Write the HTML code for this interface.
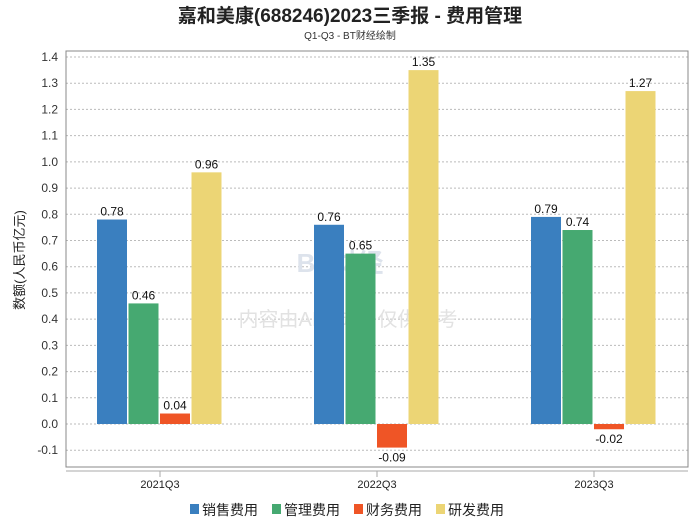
<!DOCTYPE html>
<html><head><meta charset="utf-8"><style>
body{margin:0;background:#fff;font-family:"Liberation Sans","Noto Sans CJK SC",sans-serif;}
</style></head><body>
<svg width="700" height="524" xmlns="http://www.w3.org/2000/svg" font-family="Liberation Sans, Noto Sans CJK SC, sans-serif">
<text x="350" y="22" text-anchor="middle" font-size="19" font-weight="bold" fill="#222">嘉和美康(688246)2023三季报 - 费用管理</text>
<text x="350" y="39" text-anchor="middle" font-size="10" fill="#333">Q1-Q3 - BT财经绘制</text>
<g id="grid"></g>
<rect x="66" y="51" width="622" height="416" fill="none" stroke="#888"/>
<line x1="66" y1="471" x2="688" y2="471" stroke="#aaa"/>
<text x="24" y="260" text-anchor="middle" font-size="13" fill="#222" transform="rotate(-90 24 260)">数额(人民币亿元)</text>
<text x="340" y="272" text-anchor="middle" font-size="26" font-weight="bold" fill="#dde3ec">BT财经</text>
<text x="348" y="326" text-anchor="middle" font-size="20" fill="#e2e2e2">内容由AI生成，仅供参考</text>
<g id="bars"></g>
<g id="legend"></g>
</svg>
<script>
const categories=["2021Q3","2022Q3","2023Q3"];
const seriesNames=["销售费用","管理费用","财务费用","研发费用"];
const colors=["#3a7fbf","#46a971","#ef5526","#ecd575"];
const sales=[0.78,0.76,0.79];
const admin=[0.46,0.65,0.74];
const finance=[0.04,-0.09,-0.02];
const rnd=[0.96,1.35,1.27];
const yTicks=[-0.1,0.0,0.1,0.2,0.3,0.4,0.5,0.6,0.7,0.8,0.9,1.0,1.1,1.2,1.3,1.4];
const NS="http://www.w3.org/2000/svg";
const y=v=>424-v*262.14;
const xc=i=>160+217*i;
function mk(tag,attrs,parent){const e=document.createElementNS(NS,tag);for(const k in attrs)e.setAttribute(k,attrs[k]);parent.appendChild(e);return e;}
const grid=document.getElementById('grid');
yTicks.forEach(t=>{
  const l=mk('line',{x1:66,x2:688,y1:y(t),y2:y(t),stroke:'#bbb','stroke-dasharray':'2,2'},grid);
  
  
  const tx=mk('text',{x:58,y:y(t)+4,'text-anchor':'end','font-size':12,fill:'#333'},grid);
  tx.textContent=t.toFixed(1);
  
  
});
const bars=document.getElementById('bars');
const all=[sales,admin,finance,rnd];
categories.forEach((c,i)=>{
  const tk=mk('line',{x1:xc(i),x2:xc(i),y1:471,y2:477,stroke:'#aaa'},bars);
  
  
  const lb=mk('text',{x:xc(i),y:488,'text-anchor':'middle','font-size':11,fill:'#222'},bars);
  lb.textContent=c;
  
  
  all.forEach((s,j)=>{
    const v=s[i];const x0=xc(i)-63+j*31.5;
    const top=Math.min(y(v),y(0)),h=Math.abs(y(v)-y(0));
    const r=mk('rect',{x:x0,y:top,width:30,height:h,fill:colors[j]},bars);
    
    
    const t=mk('text',{x:x0+15,y:v>=0?y(v)-4:y(v)+14,'text-anchor':'middle','font-size':12,fill:'#111'},bars);
    t.textContent=v.toFixed(2);
    
    
  });
});
const lg=document.getElementById('legend');
const lx=[190,272,354,436];
seriesNames.forEach((n,j)=>{
  const r=mk('rect',{x:lx[j],y:504,width:9,height:10,fill:colors[j]},lg);
  
  
  const t=mk('text',{x:lx[j]+12,y:515,'font-size':14,fill:'#222'},lg);
  t.textContent=n;
  
  
});
</script>
</body></html>
